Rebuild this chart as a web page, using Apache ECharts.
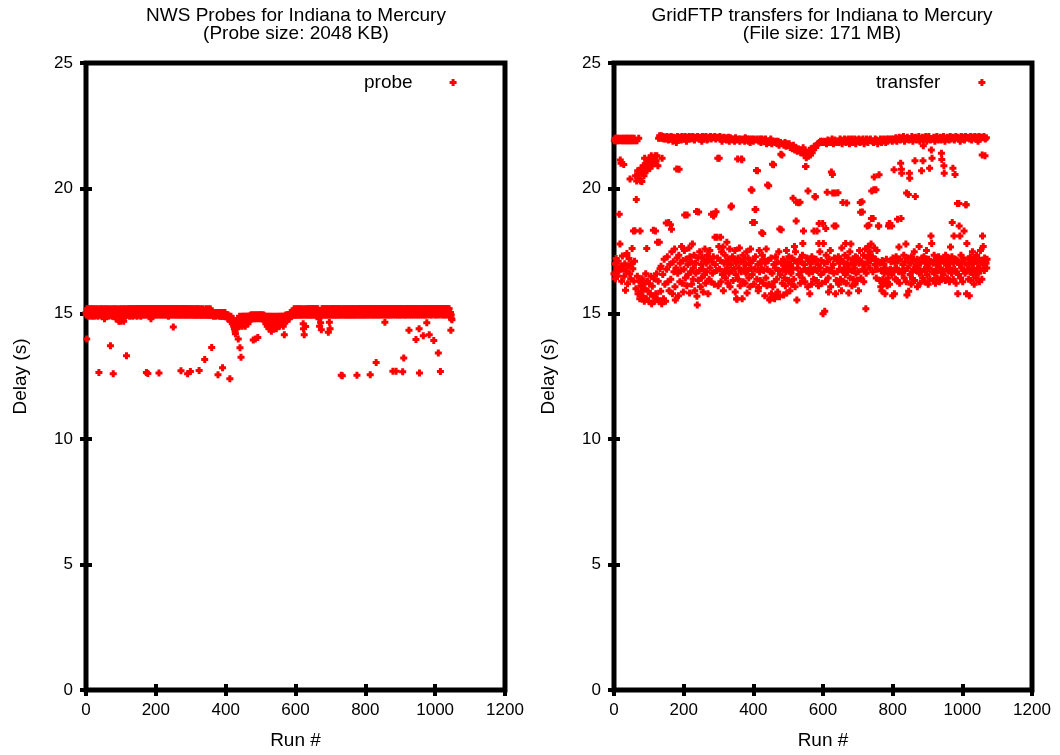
<!DOCTYPE html>
<html>
<head>
<meta charset="utf-8">
<script src="https://cdn.jsdelivr.net/npm/echarts@6/dist/echarts.min.js"></script>
<style>html,body{margin:0;padding:0;background:#fff}#c{width:1060px;height:755px}</style>
</head>
<body>
<div id="c"></div>
<script>
// Tick labels / axis setup
const xTicks = [0, 200, 400, 600, 800, 1000, 1200];
const yTicks = [0, 5, 10, 15, 20, 25];
const titleLeft = "NWS Probes for Indiana to Mercury\n(Probe size: 2048 KB)";
const titleRight = "GridFTP transfers for Indiana to Mercury\n(File size: 171 MB)";
const nameLeft = "probe";
const nameRight = "transfer";

// Delay (s) per run # (index = run number) — NWS probes
const probeDelay = [
15.05,14.95,14.0,15.2,15.05,14.95,15.05,14.9,15.2,15.05,14.95,15.05,15.2,14.95,15.05,15.05,14.9,15.2,14.95,15.05,
15.05,15.2,14.95,15.05,14.9,15.05,14.95,15.2,15.05,14.95,15.05,15.05,15.2,14.95,14.9,15.05,14.95,12.66,15.05,15.2,
14.95,15.05,15.05,14.95,15.2,14.9,15.05,14.95,15.05,15.2,15.05,14.95,15.05,14.8,15.05,15.2,14.95,15.05,14.95,15.05,
15.2,15.05,14.95,15.05,14.9,15.05,15.2,14.95,15.05,14.95,13.73,15.05,15.2,14.95,15.05,14.9,15.05,14.95,12.61,15.2,
15.05,14.95,15.05,15.2,14.95,15.05,14.8,15.05,14.95,15.2,15.05,14.9,15.05,14.95,14.7,15.05,15.2,14.95,15.05,14.7,
15.05,14.95,15.2,14.8,15.05,14.95,15.05,15.2,14.7,15.05,14.95,15.05,15.2,14.9,15.05,14.95,13.33,15.05,15.2,14.95,
15.05,14.95,15.2,15.05,15.05,14.9,15.2,14.95,15.05,15.2,15.05,14.95,15.05,15.2,14.9,15.05,14.95,15.2,15.05,14.95,
15.2,15.05,14.95,15.05,15.2,15.05,14.9,15.2,15.05,14.95,15.2,15.05,15.2,14.95,15.05,15.2,15.05,14.9,15.2,15.05,
15.05,15.2,14.95,15.05,15.2,15.05,14.95,15.2,15.05,15.2,14.95,15.05,15.2,12.66,15.05,14.95,15.2,12.62,15.05,15.2,
15.2,14.95,15.05,15.2,15.05,14.95,14.8,15.2,15.05,15.2,14.95,15.05,15.2,15.05,14.95,15.2,15.05,15.2,14.95,15.05,
15.2,15.05,14.95,15.2,15.05,15.2,15.05,14.95,15.2,12.64,15.05,15.2,14.95,15.05,15.2,15.05,14.95,15.2,15.05,15.2,
15.05,14.95,15.2,15.05,15.2,15.05,14.95,15.2,15.05,14.95,15.2,15.05,15.2,15.05,14.95,15.2,14.9,15.05,15.2,14.95,
15.05,15.2,15.05,14.95,15.2,15.05,15.2,14.95,15.05,15.2,14.47,15.05,14.95,15.2,15.05,15.2,14.95,15.05,15.2,15.05,
14.95,15.2,15.05,15.2,14.95,15.05,15.2,15.05,14.95,15.2,15.05,14.95,12.73,15.2,15.05,14.95,15.2,15.05,15.2,14.95,
15.05,15.2,15.05,14.95,15.2,15.05,14.95,15.2,15.05,14.95,15.2,12.61,15.05,14.95,15.2,15.05,14.95,15.2,15.05,12.70,
15.05,14.95,15.2,15.05,14.95,15.05,15.2,14.95,15.05,15.05,14.95,15.2,15.05,14.95,15.05,15.2,14.95,15.05,14.95,15.2,
15.05,14.95,15.05,15.2,12.74,14.95,15.05,15.05,14.95,15.2,15.05,14.95,15.05,14.95,15.2,15.05,14.95,15.05,15.05,14.95,
13.18,15.05,14.95,15.2,15.05,14.95,15.05,14.95,15.05,15.2,14.95,15.05,14.95,15.05,14.95,15.05,15.2,14.95,15.05,14.95,
13.66,15.05,14.95,15.05,14.95,14.9,15.05,14.95,15.05,14.95,15.05,14.95,14.9,15.05,14.95,15.05,14.95,15.05,12.57,14.95,
15.05,14.95,14.9,15.05,14.95,15.05,14.9,14.95,15.05,14.95,14.9,12.85,14.95,15.05,14.9,14.95,14.95,14.9,15.05,14.95,
14.9,14.95,14.9,14.95,14.9,14.9,14.8,14.95,14.9,14.8,14.9,14.8,12.41,14.8,14.7,14.9,14.8,14.7,14.8,14.6,
14.7,14.8,14.6,14.5,14.7,14.4,14.6,14.3,14.2,14.5,14.6,14.4,14.7,14.5,14.6,14.8,14.0,14.6,14.7,14.5,
14.9,13.65,14.7,14.6,13.27,14.8,14.7,14.5,14.9,14.6,14.8,14.7,14.9,14.6,14.8,14.7,14.5,14.9,14.8,14.7,
14.8,14.9,14.7,14.8,14.6,14.9,14.8,14.7,14.9,14.8,14.9,14.8,14.95,14.9,14.8,14.95,14.9,14.8,14.95,13.96,
14.9,14.95,14.9,14.8,14.95,14.0,14.9,14.95,14.8,14.9,14.95,14.9,14.06,14.95,14.9,14.8,14.95,14.9,14.95,14.9,
14.95,14.9,14.8,14.95,14.9,14.95,14.9,14.8,14.9,14.95,14.8,14.9,14.7,14.9,14.8,14.6,14.9,14.7,14.8,14.5,
14.8,14.6,14.9,14.7,14.4,14.8,14.6,14.9,14.5,14.7,14.8,14.3,14.6,14.9,14.7,14.5,14.8,14.6,14.4,14.7,
14.9,14.5,14.7,14.8,14.6,14.4,14.7,14.9,14.6,14.5,14.8,14.7,14.6,14.9,14.5,14.7,14.8,14.6,14.9,14.7,
14.8,14.6,14.9,14.7,14.8,14.5,14.9,14.7,14.16,14.8,14.9,14.7,14.95,14.8,14.9,14.7,14.95,14.9,14.8,14.95,
14.9,14.95,14.8,14.95,14.9,15.05,14.9,14.95,15.05,14.9,14.95,15.05,14.95,15.05,14.95,15.05,15.2,14.95,15.05,14.95,
15.05,15.2,14.95,15.05,15.05,14.95,15.2,15.05,14.95,15.05,15.2,15.05,14.95,15.05,15.2,14.95,15.05,15.05,14.95,15.2,
15.05,14.95,14.6,14.4,15.05,14.16,15.2,14.95,15.05,14.49,14.95,15.05,15.2,15.05,14.95,15.05,15.2,14.95,15.05,15.2,
15.05,14.95,15.2,15.05,14.95,15.05,15.2,15.05,14.95,15.2,15.05,14.95,15.05,15.2,15.05,14.95,15.2,15.05,14.95,15.05,
15.2,15.05,14.95,15.05,15.2,14.95,15.05,14.8,15.05,14.5,14.95,15.05,14.64,14.95,14.36,15.05,15.2,14.95,15.05,15.2,
15.05,14.95,15.2,15.05,14.95,15.05,15.2,15.05,14.95,15.2,15.05,14.95,15.05,15.2,14.26,14.95,15.05,14.66,15.2,14.4,
15.05,14.95,15.2,15.05,14.95,15.2,15.05,14.95,15.05,15.2,15.05,14.95,15.2,15.05,14.95,15.05,15.2,14.95,15.05,15.2,
15.05,14.95,15.2,15.05,15.05,14.95,15.2,15.05,14.95,15.2,15.05,12.55,14.95,15.05,12.53,15.2,15.05,14.95,15.05,15.2,
15.05,14.95,15.2,15.05,14.95,15.2,15.05,15.05,14.95,15.2,15.05,14.95,15.05,15.2,15.05,14.95,15.2,15.05,14.95,15.05,
15.2,15.05,14.95,15.05,15.2,15.05,14.95,15.2,15.05,15.05,14.95,15.2,15.05,14.95,15.05,15.2,12.55,15.05,14.95,15.2,
15.05,15.2,14.95,15.05,15.2,15.05,14.95,15.2,15.05,15.2,14.95,15.05,15.2,15.05,14.95,15.2,15.05,15.2,14.95,15.05,
15.2,15.05,14.95,15.2,15.05,15.2,15.05,14.95,15.2,15.05,15.2,14.95,15.05,15.2,12.57,15.05,14.95,15.2,15.05,15.2,
15.05,14.95,15.2,15.05,15.2,14.95,15.05,15.2,15.05,14.95,15.2,13.06,15.05,15.2,14.95,15.05,15.2,15.05,14.95,15.2,
15.05,15.2,14.95,15.05,15.2,15.05,15.2,14.95,15.05,15.2,15.05,15.2,14.95,15.05,15.2,15.05,14.66,15.2,14.95,15.05,
15.2,15.05,15.2,14.95,15.05,15.2,15.05,14.95,15.2,15.05,15.2,15.05,14.95,15.2,15.05,15.2,14.95,15.05,15.2,12.71,
15.05,15.2,14.95,15.05,15.2,15.05,15.2,14.95,12.71,15.05,15.2,15.05,14.95,15.2,15.05,15.2,15.05,14.95,15.2,15.05,
15.2,14.95,15.05,15.2,15.05,15.2,14.95,12.69,15.05,15.2,13.24,15.05,14.95,15.2,15.05,15.2,14.95,15.05,15.2,15.05,
15.2,14.95,15.05,15.2,15.05,14.34,15.2,14.95,15.05,15.2,15.05,15.2,14.95,15.05,15.2,15.05,15.2,14.95,15.05,15.2,
15.05,15.2,14.95,15.05,15.2,13.98,15.05,15.2,14.95,15.05,15.2,15.05,14.95,15.2,14.4,12.64,15.05,15.2,14.95,15.05,
15.2,15.05,15.2,14.95,15.05,15.2,14.12,15.05,14.95,15.2,15.05,15.2,14.95,15.05,15.2,15.05,14.64,15.2,14.95,15.05,
15.2,15.05,15.2,14.16,15.05,15.2,14.95,15.05,15.2,15.05,15.2,14.95,15.05,15.2,15.05,15.2,13.94,15.05,15.2,14.95,
15.05,15.2,15.05,15.2,14.95,15.05,15.2,15.05,15.2,13.44,15.05,15.2,14.95,15.05,15.2,12.7,15.05,15.2,15.05,15.2,
14.95,15.05,15.2,15.05,15.2,14.95,15.05,15.2,15.05,15.2,15.05,14.95,15.2,15.05,15.2,15.05,14.95,15.2,15.05,15.05,
15.2,14.95,15.05,14.9,15.05,14.34,14.95,14.8,14.76
];

// Delay (s) per run # (index = run number) — GridFTP transfers
const transferDelay = [
16.6,21.9,17.0,22.0,16.4,21.9,17.2,22.0,16.8,21.9,16.5,22.0,17.1,21.9,16.7,18.97,22.0,17.78,21.13,16.9,
21.0,21.9,16.3,22.0,17.3,21.9,16.8,22.0,20.95,16.5,21.9,17.0,22.0,15.94,21.9,16.7,22.0,17.4,21.9,16.2,
22.0,16.9,21.9,17.2,22.0,16.6,20.37,21.9,16.4,22.0,17.0,21.9,17.6,22.0,16.8,21.9,18.3,16.3,22.0,17.1,
18.31,21.9,20.5,16.0,19.56,20.3,21.9,16.5,20.7,15.8,20.4,22.0,16.3,20.6,15.6,18.3,20.3,16.1,20.8,15.9,
20.28,16.4,20.6,15.7,20.9,16.2,20.5,15.5,21.2,16.0,20.8,16.6,21.0,15.6,17.6,20.7,16.3,21.1,15.9,20.9,
15.5,21.2,16.2,20.8,15.8,21.0,16.5,21.3,15.4,20.9,16.1,21.1,15.7,18.33,21.2,16.4,21.0,15.5,21.3,18.3,
15.8,21.1,16.6,21.3,15.6,17.85,20.9,16.3,22.0,15.5,17.85,22.1,16.8,22.0,15.9,16.9,22.1,15.4,21.2,22.0,
16.57,22.07,15.6,21.97,17.18,22.02,16.18,22.04,15.5,21.97,18.62,16.78,22.07,17.27,22.02,16.28,21.93,18.64,15.92,22.04,
16.97,21.97,18.55,16.38,22.07,18.37,17.47,22.02,15.8,21.88,17.08,22.04,16.68,21.97,17.58,16.08,15.55,22.02,16.83,21.83,
20.77,17.22,22.07,16.62,21.97,15.72,17.33,20.76,22.04,16.28,17.02,22.02,16.73,21.93,17.68,22.07,16.22,21.97,17.13,15.87,
22.02,16.78,17.52,18.94,22.07,16.43,21.97,17.18,21.88,16.12,18.94,22.04,16.97,16.57,22.02,17.62,22.07,15.83,17.27,21.97,
16.68,22.04,17.08,16.18,22.02,17.78,22.07,16.38,16.83,21.97,17.33,21.93,15.92,22.04,17.02,16.62,22.02,19.08,15.7,15.35,
22.07,17.22,16.33,19.06,21.97,16.73,17.47,22.04,16.08,22.02,16.97,16.43,21.88,17.27,22.07,16.78,15.87,21.97,17.13,22.04,
16.57,17.58,22.02,16.22,22.07,17.02,16.68,21.93,17.33,21.97,15.8,17.18,22.04,16.38,22.02,17.52,16.83,22.07,16.28,21.97,
18.97,17.08,22.04,16.62,22.02,17.27,18.9,18.97,16.18,22.07,18.05,16.97,21.97,19.07,16.73,22.04,18.05,17.22,21.2,16.12,
22.02,17.68,21.2,16.78,22.07,17.13,18.05,16.28,21.97,17.47,21.88,16.57,22.02,17.66,15.92,22.04,17.02,16.68,21.97,17.33,
16.43,22.02,17.08,21.93,17.85,16.83,21.97,16.22,17.18,22.04,16.62,21.88,17.58,16.08,22.02,16.97,19.26,19.3,21.97,16.73,
17.27,21.93,16.33,21.97,17.13,16.78,21.88,17.52,15.87,22.02,16.57,17.02,15.6,15.58,21.93,21.17,17.22,16.38,21.97,16.83,
17.62,21.88,16.12,21.97,17.08,16.68,21.17,21.14,15.6,21.93,17.33,16.28,21.97,16.78,17.18,21.88,16.22,22.02,16.97,16.62,
21.93,17.47,15.83,21.97,16.73,17.22,21.88,16.43,21.97,17.02,16.08,21.83,17.58,16.83,19.95,21.97,19.93,16.57,18.64,17.13,
21.88,16.18,21.97,18.64,16.78,19.16,17.27,19.16,21.93,20.71,16.38,21.97,20.7,16.97,15.92,16.05,21.88,17.52,16.68,21.97,
16.33,17.08,21.83,16.83,18.23,21.97,17.33,18.2,16.22,21.88,16.73,17.18,21.93,15.72,17.02,21.97,16.43,17.58,21.78,16.12,
16.78,20.14,21.88,17.13,20.11,16.18,21.83,15.55,15.6,16.68,21.97,17.22,15.8,21.78,16.62,20.96,16.08,21.88,20.94,16.97,
16.28,15.6,21.83,16.83,17.27,21.88,15.7,16.38,21.78,17.08,15.87,21.88,16.73,17.47,21.72,15.68,18.38,16.57,21.83,21.36,
18.35,17.02,21.33,16.22,21.78,16.78,17.18,15.75,21.72,16.43,16.97,21.83,16.12,16.68,21.68,17.52,15.83,21.78,16.83,17.08,
21.72,16.33,17.27,21.78,16.73,15.92,21.63,16.97,16.62,21.68,16.18,17.22,21.58,16.78,19.61,21.72,16.38,17.13,17.68,21.53,
16.08,17.47,21.63,18.7,19.45,15.55,21.48,16.83,17.02,21.58,19.43,16.57,21.53,17.18,19.45,16.22,21.42,16.68,17.08,21.47,
16.43,17.33,17.8,21.62,18.3,16.78,21.33,16.97,16.28,21.48,20.87,20.87,21.22,16.73,17.22,21.38,16.08,19.9,21.28,17.13,
16.62,21.52,15.8,17.02,21.33,16.83,21.58,16.18,17.27,21.42,16.68,21.53,17.08,16.38,18.3,21.68,16.78,19.68,19.66,21.63,
17.18,16.33,21.72,18.3,16.73,21.78,16.97,16.12,17.8,18.6,21.83,17.47,16.83,21.88,16.57,17.13,21.83,16.22,21.88,18.6,
15.0,17.8,21.83,16.68,17.02,15.1,21.88,16.28,18.4,17.33,21.78,16.78,19.85,17.08,21.93,16.43,15.87,21.83,17.18,16.73,
21.88,17.52,16.08,21.83,20.65,16.83,21.97,20.55,19.82,16.97,21.78,16.62,18.5,17.22,21.93,19.82,15.8,18.5,16.33,21.83,
17.13,16.68,21.88,19.83,17.27,16.18,21.83,16.78,17.02,21.97,16.38,17.18,21.93,15.92,17.62,21.78,16.73,19.44,17.08,21.88,
16.28,16.83,21.97,17.33,16.57,17.8,21.83,16.22,19.42,16.97,21.93,16.68,17.22,21.97,15.83,16.78,21.78,17.47,16.43,21.88,
17.78,17.02,21.97,16.12,16.73,21.83,17.18,16.38,21.88,16.97,16.83,21.97,16.18,17.27,21.78,16.62,17.13,21.93,16.33,17.22,
21.88,16.68,15.92,21.97,17.02,17.52,21.83,19.44,19.05,16.43,21.93,17.08,19.47,19.06,16.78,21.97,17.33,16.28,21.78,16.97,
16.73,21.88,17.58,15.2,16.62,21.97,17.22,18.5,17.02,21.83,17.68,17.33,18.53,21.93,16.83,17.47,21.97,17.13,17.78,18.8,
19.9,21.88,17.27,16.68,18.8,21.83,19.95,20.45,17.62,16.97,21.97,17.18,19.95,16.43,21.93,17.52,16.78,21.78,17.08,18.5,
18.5,20.54,21.88,16.33,17.02,21.97,16.08,16.73,21.83,15.92,17.13,21.88,16.38,16.22,21.97,16.97,16.62,21.93,15.8,16.83,
21.83,16.28,17.18,21.97,16.12,16.68,21.88,16.43,18.5,21.97,18.6,16.18,18.6,21.93,16.78,17.08,21.97,18.5,16.57,21.88,
15.72,17.22,21.97,16.73,20.74,15.8,21.93,17.02,16.38,22.02,17.27,16.83,21.88,16.33,18.77,21.97,17.13,16.68,17.66,22.04,
16.22,17.18,21.93,21.0,18.8,20.76,20.6,16.62,22.02,16.97,16.78,22.07,17.33,16.43,21.88,16.73,17.08,21.97,17.78,16.28,
19.82,15.75,22.04,16.83,17.22,19.76,15.9,21.93,20.6,20.4,16.57,17.02,21.97,16.18,17.27,22.07,16.68,16.38,21.88,17.13,
16.78,22.02,17.47,16.33,21.1,19.68,22.04,16.97,16.73,21.93,17.18,16.08,21.97,16.83,17.08,22.07,17.68,16.62,21.88,16.22,
17.02,21.97,16.68,20.7,17.22,22.04,16.43,21.1,21.7,21.93,17.27,16.78,22.02,16.28,17.13,22.07,16.73,17.52,21.88,16.57,
16.97,22.02,16.18,17.18,22.07,16.83,20.8,16.38,21.93,17.08,18.1,21.53,17.8,21.2,16.68,21.97,17.02,16.33,22.04,17.33,
16.62,21.88,17.13,16.22,22.02,16.78,17.22,22.07,16.43,16.97,21.93,16.73,17.27,21.97,16.28,17.08,22.04,16.83,16.38,21.93,
21.4,21.15,16.68,22.02,17.18,16.57,22.07,20.9,20.6,17.02,21.88,16.33,17.33,21.97,16.78,17.13,22.04,16.43,16.97,22.02,
16.73,17.22,21.93,16.28,16.83,22.07,17.66,17.08,21.97,16.62,17.27,18.64,22.04,20.8,16.38,17.02,18.1,21.93,16.78,20.55,
17.18,22.07,16.22,16.68,22.02,17.13,19.4,15.8,22.04,16.57,19.4,18.5,16.97,18.1,21.88,16.43,17.33,22.07,16.83,17.08,
21.97,16.28,17.22,22.04,16.73,18.3,21.93,17.02,16.62,22.07,19.35,19.35,15.8,17.8,22.02,16.78,17.18,22.04,16.38,16.97,
15.72,21.97,16.68,17.27,22.07,16.33,17.13,21.93,16.83,17.47,22.04,16.57,17.02,22.02,16.18,17.22,22.07,16.73,17.08,21.97,
16.43,17.33,22.04,16.78,17.02,21.88,16.62,17.18,22.07,16.28,16.83,21.97,17.52,16.73,22.04,17.13,16.38,21.33,18.1,22.02,
17.68,16.97,22.07,16.73,17.22,21.3,21.97,17.08,17.02,22.02,16.83,17.18
];

const FONT = "'Liberation Sans', Arial, Helvetica, sans-serif";
const PLUS = 'path://M2,0h3v2h2v3h-2v2h-3v-2h-2v-3h2z';

const toPoints = arr => arr.map((v, i) => [i, v]);

const chart = echarts.init(document.getElementById('c'), null, {renderer: 'canvas'});

function xAx(gi, pos) {
  const main = pos === 'bottom';
  return {
    type: 'value', gridIndex: gi, position: pos, min: xTicks[0], max: xTicks[xTicks.length - 1], interval: xTicks[1] - xTicks[0],
    name: main ? 'Run #' : '', nameLocation: 'middle', nameGap: 41,
    nameTextStyle: {fontFamily: FONT, fontSize: 19, color: '#000'},
    axisLine: {show: false},
    axisTick: {show: true, inside: true, length: 6, lineStyle: {color: '#000', width: 4}},
    axisLabel: {show: main, margin: 12, fontFamily: FONT, fontSize: 17, color: '#000', formatter: v => String(v)},
    splitLine: {show: false}
  };
}
function yAx(gi, pos) {
  const main = pos === 'left';
  return {
    type: 'value', gridIndex: gi, position: pos, min: yTicks[0], max: yTicks[yTicks.length - 1], interval: yTicks[1] - yTicks[0],
    name: main ? 'Delay (s)' : '', nameLocation: 'middle', nameGap: 56, nameRotate: 90,
    nameTextStyle: {fontFamily: FONT, fontSize: 19, color: '#000'},
    axisLine: {show: false},
    axisTick: {show: true, inside: true, length: 6, lineStyle: {color: '#000', width: 4}},
    axisLabel: {show: main, margin: 13, fontFamily: FONT, fontSize: 17, color: '#000', formatter: v => String(v)},
    splitLine: {show: false}
  };
}

chart.setOption({
  animation: false,
  backgroundColor: '#fff',
  title: [
    {text: titleLeft, left: 291, top: 2, textAlign: 'center',
     textStyle: {fontFamily: FONT, fontSize: 19, fontWeight: 'normal', color: '#000', lineHeight: 18}},
    {text: titleRight, left: 817, top: 2, textAlign: 'center',
     textStyle: {fontFamily: FONT, fontSize: 19, fontWeight: 'normal', color: '#000', lineHeight: 18}}
  ],
  legend: [
    {data: [{name: nameLeft, icon: PLUS}], left: 359, top: 68, align: 'right', itemWidth: 7, itemHeight: 7,
     textStyle: {fontFamily: FONT, fontSize: 19, color: '#000', padding: [0, 32, 0, 0]}},
    {data: [{name: nameRight, icon: PLUS}], left: 871, top: 68, align: 'right', itemWidth: 7, itemHeight: 7,
     textStyle: {fontFamily: FONT, fontSize: 19, color: '#000', padding: [0, 33, 0, 0]}}
  ],
  grid: [
    {left: 86, top: 63, width: 419, height: 632, show: true, borderColor: '#000', borderWidth: 5, containLabel: false},
    {left: 614, top: 63, width: 418, height: 632, show: true, borderColor: '#000', borderWidth: 5, containLabel: false}
  ],
  xAxis: [xAx(0, 'bottom'), xAx(0, 'top'), xAx(1, 'bottom'), xAx(1, 'top')],
  yAxis: [yAx(0, 'left'), yAx(0, 'right'), yAx(1, 'left'), yAx(1, 'right')],
  series: [
    {name: nameLeft, type: 'scatter', xAxisIndex: 0, yAxisIndex: 0, symbol: PLUS, symbolSize: 7,
     itemStyle: {color: '#ff0000', opacity: 1}, data: toPoints(probeDelay), large: false},
    {name: nameRight, type: 'scatter', xAxisIndex: 2, yAxisIndex: 2, symbol: PLUS, symbolSize: 7,
     itemStyle: {color: '#ff0000', opacity: 1}, data: toPoints(transferDelay), large: false}
  ]
});
</script>
</body>
</html>
